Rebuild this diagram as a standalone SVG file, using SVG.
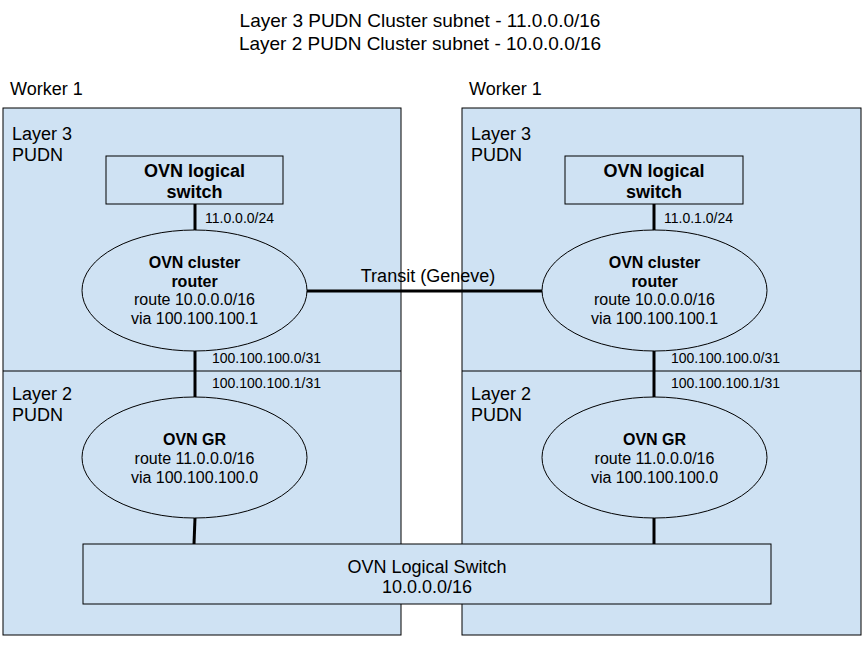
<svg xmlns="http://www.w3.org/2000/svg" width="866" height="650" viewBox="0 0 866 650">
<style>
  text { font-family: "Liberation Sans", Arial, sans-serif; fill: #000; }
  .t19 { font-size: 19px; }
  .t18 { font-size: 18px; }
  .t16 { font-size: 16px; }
  .b16 { font-size: 16px; font-weight: bold; }
  .b18 { font-size: 18px; font-weight: bold; }
  .s14 { font-size: 14px; }
  .mid { text-anchor: middle; }
  .box { fill: #cfe2f3; stroke: #000; stroke-width: 1; }
  .link { stroke: #000; stroke-width: 3; fill: none; }
</style>
<rect width="866" height="650" fill="#fff"/>
<g id="title">
  <text class="t19 mid" x="420" y="27">Layer 3 PUDN Cluster subnet - 11.0.0.0/16</text>
  <text class="t19 mid" x="420" y="50">Layer 2 PUDN Cluster subnet - 10.0.0.0/16</text>
</g>
<g id="worker-left">
  <text class="t18" x="10" y="95">Worker 1</text>
  <rect class="box" x="3" y="108" width="398" height="527"/>
  <line x1="3" y1="371" x2="401" y2="371" stroke="#000" stroke-width="1"/>
  <text class="t18" x="12" y="140">Layer 3</text>
  <text class="t18" x="12" y="161">PUDN</text>
  <text class="t18" x="12" y="400">Layer 2</text>
  <text class="t18" x="12" y="421">PUDN</text>
</g>
<g id="worker-right">
  <text class="t18" x="469" y="95">Worker 1</text>
  <rect class="box" x="462" y="108" width="399" height="527"/>
  <line x1="462" y1="371" x2="861" y2="371" stroke="#000" stroke-width="1"/>
  <text class="t18" x="471" y="140">Layer 3</text>
  <text class="t18" x="471" y="161">PUDN</text>
  <text class="t18" x="471" y="400">Layer 2</text>
  <text class="t18" x="471" y="421">PUDN</text>
</g>
<g id="connectors">
  <line class="link" x1="195" y1="204" x2="195" y2="230"/>
  <line class="link" x1="195" y1="351" x2="195" y2="397"/>
  <line class="link" x1="195" y1="518" x2="194" y2="544"/>
  <line class="link" x1="654" y1="204" x2="654" y2="230"/>
  <line class="link" x1="654" y1="351" x2="654" y2="397"/>
  <line class="link" x1="654" y1="518" x2="654" y2="544"/>
  <line class="link" x1="307" y1="291" x2="542" y2="291"/>
  <text class="t18 mid" x="428" y="282">Transit (Geneve)</text>
  <text class="s14" x="205" y="223">11.0.0.0/24</text>
  <text class="s14" x="212" y="363">100.100.100.0/31</text>
  <text class="s14" x="212" y="388">100.100.100.1/31</text>
  <text class="s14" x="664" y="223">11.0.1.0/24</text>
  <text class="s14" x="671" y="363">100.100.100.0/31</text>
  <text class="s14" x="671" y="388">100.100.100.1/31</text>
</g>
<g id="ls-left">
  <rect class="box" x="106" y="156" width="177" height="48"/>
  <text class="b18 mid" x="194.5" y="177">OVN logical</text>
  <text class="b18 mid" x="194.5" y="198">switch</text>
</g>
<g id="ls-right">
  <rect class="box" x="565" y="156" width="178" height="48"/>
  <text class="b18 mid" x="654" y="177">OVN logical</text>
  <text class="b18 mid" x="654" y="198">switch</text>
</g>
<g id="cr-left">
  <ellipse class="box" cx="194.5" cy="290.5" rx="112.5" ry="60.5"/>
  <text class="b16 mid" x="194.5" y="268">OVN cluster</text>
  <text class="b16 mid" x="194.5" y="287">router</text>
  <text class="t16 mid" x="194.5" y="305">route 10.0.0.0/16</text>
  <text class="t16 mid" x="194.5" y="324">via 100.100.100.1</text>
</g>
<g id="cr-right">
  <ellipse class="box" cx="654.5" cy="290.5" rx="112.5" ry="60.5"/>
  <text class="b16 mid" x="654.5" y="268">OVN cluster</text>
  <text class="b16 mid" x="654.5" y="287">router</text>
  <text class="t16 mid" x="654.5" y="305">route 10.0.0.0/16</text>
  <text class="t16 mid" x="654.5" y="324">via 100.100.100.1</text>
</g>
<g id="gr-left">
  <ellipse class="box" cx="194.5" cy="457.5" rx="112.5" ry="60.5"/>
  <text class="b16 mid" x="194.5" y="445">OVN GR</text>
  <text class="t16 mid" x="194.5" y="464">route 11.0.0.0/16</text>
  <text class="t16 mid" x="194.5" y="483">via 100.100.100.0</text>
</g>
<g id="gr-right">
  <ellipse class="box" cx="654.5" cy="457.5" rx="112.5" ry="60.5"/>
  <text class="b16 mid" x="654.5" y="445">OVN GR</text>
  <text class="t16 mid" x="654.5" y="464">route 11.0.0.0/16</text>
  <text class="t16 mid" x="654.5" y="483">via 100.100.100.0</text>
</g>
<g id="ovn-ls-bottom">
  <rect class="box" x="83" y="544" width="688" height="60"/>
  <text class="t18 mid" x="427" y="573">OVN Logical Switch</text>
  <text class="t18 mid" x="427" y="593">10.0.0.0/16</text>
</g>
</svg>
